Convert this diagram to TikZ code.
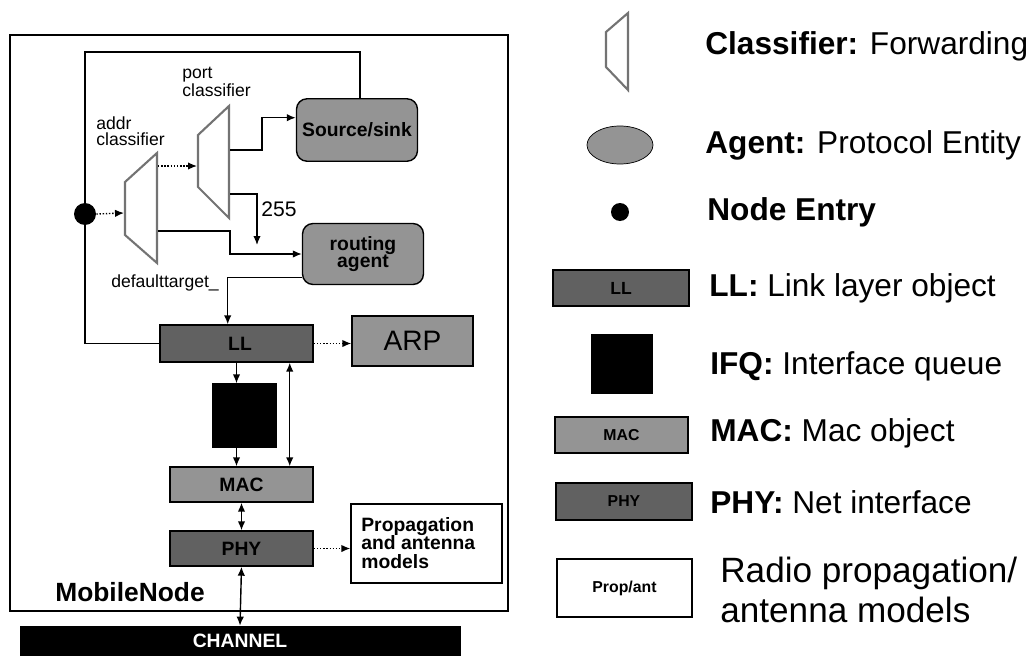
\documentclass[tikz,border=0pt]{standalone}
\usepackage{fontspec}
\setmainfont{Liberation Sans}
\usetikzlibrary{arrows.meta,positioning,calc,shapes.geometric}

\begin{document}
\begin{tikzpicture}[
            x=0.02cm,y=-0.02cm,
            >=Latex,
            layer/.style={draw,thick,rectangle,inner sep=0pt,align=center,
                          minimum width=2.86cm,minimum height=0.7cm,font=\bfseries\fontsize{11}{12}\selectfont},
            agentbox/.style={draw,thick,rectangle,rounded corners=6pt,fill=black!42,inner sep=0pt,align=center,
                             minimum width=2.42cm,minimum height=1.25cm,font=\bfseries\fontsize{11}{10}\selectfont},
            entrydot/.style={circle,fill=black,inner sep=0pt,minimum size=0.44cm},
            lab/.style={font=\fontsize{10}{9}\selectfont,align=left,inner sep=0pt},
            legtext/.style={anchor=west,inner sep=0pt,font=\fontsize{18}{20}\selectfont},
            line/.style={-{Latex[length=1.8mm,width=1.5mm]},line width=0.8pt},
            dline/.style={{Latex[length=1.8mm,width=1.5mm]}-{Latex[length=1.8mm,width=1.5mm]},line width=0.8pt},
            gline/.style={-{Latex[length=1.8mm,width=1.5mm]},line width=0.8pt,densely dotted},
            classif/.style={draw=black!55,line width=1.2pt,fill=white,line join=miter}
        ]
        \useasboundingbox (0,0) rectangle (1029,656);
        % mobile node frame
        \draw[line width=0.8pt] (10,35) rectangle (508,611);
        \node[font=\bfseries\fontsize{15}{16}\selectfont,inner sep=0pt] (mnlabel) at (130,592) {MobileNode};

        % classifiers
        \draw[classif] (125,182) -- (157,153) -- (157,263) -- (125,235) -- cycle;
        \draw[classif] (198,135) -- (229,106) -- (229,218) -- (198,187) -- cycle;
        \coordinate (addrin) at (124,213);
        \coordinate (addrout1) at (158,166);
        \coordinate (addrout2) at (158,231);
        \coordinate (portin) at (197,166);
        \coordinate (portout1) at (230,150);
        \coordinate (portout2) at (230,194);
        \coordinate (p255) at (257,245);
        \coordinate (loop) at (360,52);
        \node[lab,anchor=west] (portlab) at (182,82) {port\\classifier};
        \node[lab,anchor=west] (addrlab) at (96,131) {addr\\classifier};
        \node[lab] (deflab) at (165,283) {defaulttarget\_};
        \node[font=\fontsize{12}{12}\selectfont,inner sep=0pt] (lab255) at (279,209) {255};

        % objects
        \node[entrydot] (entry) at (85,214) {};
        \node[agentbox] (src) at (357,130) {Source/sink};
        \node[agentbox,minimum height=1.22cm] (rtg) at (363,254) {routing\\agent};
        \node[layer,fill=black!62,minimum width=3.06cm,minimum height=0.74cm] (ll) at (236.5,343.5) {\hspace*{4pt}LL};
        \node[layer,fill=black!42,minimum width=2.42cm,minimum height=1.0cm,font=\fontsize{16}{16}\selectfont] (arp) at (412.5,341) {ARP};
        \node[layer,fill=black,minimum width=1.26cm,minimum height=1.26cm] (ifq) at (244.5,415.5) {};
        \node[layer,fill=black!42] (mac) at (241.5,484.5) {MAC};
        \node[layer,fill=black!62] (phy) at (241.5,548.5) {PHY};
        \node[draw,thick,fill=white,minimum width=3.02cm,minimum height=1.58cm,inner sep=0pt] (prop) at (426.5,543.5) {};
        \node[anchor=west,align=left,inner sep=0pt,font=\bfseries\fontsize{11}{10.5}\selectfont] (proptext) at (361,543) {Propagation\\and antenna\\models};
        \node[draw,fill=black,text=white,minimum width=8.8cm,minimum height=0.6cm,inner sep=0pt,
              font=\bfseries\fontsize{11}{11}\selectfont] (channel) at (240,641) {CHANNEL};

        % connectors
        \draw[line width=0.8pt] (entry.north) |- (loop) -- (loop |- src.north);
        \draw[gline] (entry.east) -- (addrin);
        \draw[gline] (addrout1) -- (portin);
        \draw[line] (portout1) -- ++(32,0) |- ([yshift=7pt]src.west);
        \draw[line] (portout2) -| (p255);
        \draw[line] (addrout2) -- ++(72,0) |- (rtg.west);
        \draw[line] ([yshift=-13.5pt]rtg.west) -| ([xshift=-5pt]ll.north);
        \draw[line width=0.8pt] (entry.south) |- (ll.west);
        \draw[gline] (ll.east) -- (ll.east -| arp.west);
        \draw[line] (ll.south) -- (ll.south |- ifq.north);
        \draw[line] (ll.south |- ifq.south) -- (ll.south |- mac.north);
        \draw[dline] ([xshift=30.3pt]ll.south) -- ([xshift=30.3pt]ll.south |- mac.north);
        \draw[dline] (mac.south) -- (phy.north);
        \draw[gline] (phy.east) -- (phy.east -| prop.west);
        \draw[dline] (phy.south) -- (channel.north);

        % legend
        \draw[classif] (606,32) -- (628,13) -- (628,90) -- (606,67) -- cycle;
        \node[legtext] (legclass) at (705,46) {\textbf{Classifier:} Forwarding};
        \node[ellipse,draw,fill=black!42,minimum width=1.32cm,minimum height=0.76cm] (legagent) at (620,145) {};
        \node[legtext] (legagenttext) at (705,145) {\textbf{Agent:} Protocol Entity};
        \node[entrydot,minimum size=0.36cm] (legentry) at (620,212) {};
        \node[legtext] (legentrytext) at (707,212) {\textbf{Node Entry}};
        \node[layer,fill=black!62,minimum width=2.72cm,minimum height=0.72cm,font=\bfseries\fontsize{10}{10}\selectfont] (legll) at (621,288) {LL};
        \node[legtext] (leglltext) at (709,288) {\textbf{LL:} Link layer object};
        \node[layer,fill=black,minimum width=1.2cm,minimum height=1.16cm] (legifq) at (622,364) {};
        \node[legtext] (legifqtext) at (710,366) {\textbf{IFQ:} Interface queue};
        \node[layer,fill=black!42,minimum width=2.66cm,minimum height=0.72cm,font=\bfseries\fontsize{9}{9}\selectfont] (legmac) at (621.5,435) {MAC};
        \node[legtext] (legmactext) at (710,433) {\textbf{MAC:} Mac object};
        \node[layer,fill=black!62,minimum width=2.72cm,minimum height=0.74cm,font=\bfseries\fontsize{9}{9}\selectfont] (legphy) at (624,501.5) {PHY};
        \node[legtext] (legphytext) at (710,502) {\textbf{PHY:} Net interface};
        \node[layer,fill=white,minimum width=2.7cm,minimum height=1.16cm,font=\bfseries\fontsize{9}{9}\selectfont] (legprop) at (624.5,588) {Prop/ant};
        \node[legtext,align=left,font=\fontsize{20}{22.7}\selectfont] (legproptext) at (720,590) {Radio propagation/\\antenna models};
\end{tikzpicture}
\end{document}
